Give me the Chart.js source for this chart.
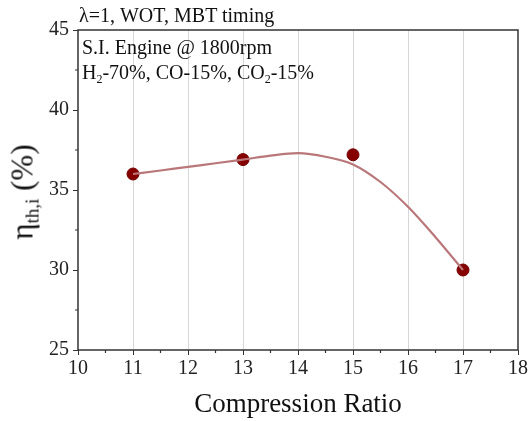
<!DOCTYPE html>
<html>
<head>
<meta charset="utf-8">
<script src="https://cdn.jsdelivr.net/npm/chart.js@4/dist/chart.umd.min.js"></script>
<style>
  html,body{margin:0;padding:0;background:#fff;}
  #wrap{position:relative;width:531px;height:421px;font-family:"Liberation Serif","Times New Roman",serif;color:#111;}
  canvas{position:absolute;left:0;top:0;}
  .note{position:absolute;white-space:nowrap;font-size:20px;line-height:1;}
  .note sub{font-size:12px;vertical-align:-4px;line-height:0;}
  #ytitle{position:absolute;left:22px;top:192px;transform:translate(-50%,-50%) rotate(-90deg);white-space:nowrap;font-size:31px;line-height:1;}
  #ytitle sub{font-size:19px;vertical-align:-6px;line-height:0;}
</style>
</head>
<body>
<div id="wrap">
  <canvas id="c" width="531" height="421"></canvas>
  <div class="note" style="left:79px;top:5px;">λ=1, WOT, MBT timing</div>
  <div class="note" style="left:82px;top:37px;">S.I. Engine @ 1800rpm</div>
  <div class="note" style="left:82px;top:62px;">H<sub>2</sub>-70%, CO-15%, CO<sub>2</sub>-15%</div>
  <div id="ytitle">η<sub>th,i</sub> (%)</div>
</div>
<script>
// measured points
const ratio = [11, 13, 15, 17];
const effPoints = [36.0, 36.9, 37.2, 30.0];

// fitted curve
const curveX = [11, 11.5, 12, 12.5, 13, 13.5, 14, 14.5, 15, 15.5, 16, 16.5, 17];
const curveY = [36.0, 36.22, 36.45, 36.67, 36.9, 37.15, 37.3, 37.08, 36.6, 35.5, 33.95, 32.05, 30.0];

const xMinor = [10.5, 11.5, 12.5, 13.5, 14.5, 15.5, 16.5, 17.5];
const yMinor = [27.5, 32.5, 37.5, 42.5];

const serif = '"Liberation Serif","Times New Roman",serif';

// box round the plot + short minor ticks
const frame = {
  id: 'frame',
  afterDraw(chart){
    const {ctx, chartArea:a, scales:{x, y}} = chart;
    ctx.save();
    ctx.strokeStyle = '#333';
    ctx.lineWidth = 1.5;
    ctx.strokeRect(a.left, a.top, a.width, a.height);
    ctx.lineWidth = 1.2;
    ctx.beginPath();
    xMinor.forEach(v=>{ const px = x.getPixelForValue(v); ctx.moveTo(px, a.bottom); ctx.lineTo(px, a.bottom+3); });
    yMinor.forEach(v=>{ const py = y.getPixelForValue(v); ctx.moveTo(a.left-3, py); ctx.lineTo(a.left, py); });
    ctx.stroke();
    ctx.restore();
  }
};

new Chart(document.getElementById('c'), {
  type: 'scatter',
  data: {
    datasets: [
      {
        label: 'fit',
        type: 'line',
        data: curveX.map((v,i)=>({x:v, y:curveY[i]})),
        borderColor: '#b9777a',
        borderWidth: 2.2,
        pointRadius: 0,
        cubicInterpolationMode: 'monotone',
        fill: false
      },
      {
        label: 'eta',
        data: ratio.map((v,i)=>({x:v, y:effPoints[i]})),
        backgroundColor: '#870000',
        borderColor: '#750000',
        pointRadius: 6,
        pointHoverRadius: 6
      }
    ]
  },
  options: {
    responsive: false,
    animation: false,
    layout: { padding: { top: 30, right: 13, left: 0, bottom: 0 } },
    plugins: { legend: { display: false }, tooltip: { enabled: false } },
    scales: {
      x: {
        type: 'linear', min: 10, max: 18,
        ticks: { stepSize: 1, color: '#222', font: { family: serif, size: 20 }, padding: 2, maxRotation: 0 },
        grid: {
          color: ctx => (ctx.tick && (ctx.tick.value === 10 || ctx.tick.value === 18)) ? 'rgba(0,0,0,0)' : '#d6d6d6',
          tickColor: '#333', tickLength: 5, lineWidth: 1
        },
        border: { display: false },
        title: { display: true, text: 'Compression Ratio', color: '#111', font: { family: serif, size: 27 }, padding: { top: 4, bottom: 0 } },
        afterFit: s => { s.height = 71; }
      },
      y: {
        min: 25, max: 45,
        ticks: { stepSize: 5, color: '#222', font: { family: serif, size: 20 }, padding: 4 },
        grid: { drawOnChartArea: false, tickColor: '#333', tickLength: 5 },
        border: { display: false },
        afterFit: s => { s.width = 78; }
      }
    }
  },
  plugins: [frame]
});
</script>
</body>
</html>
